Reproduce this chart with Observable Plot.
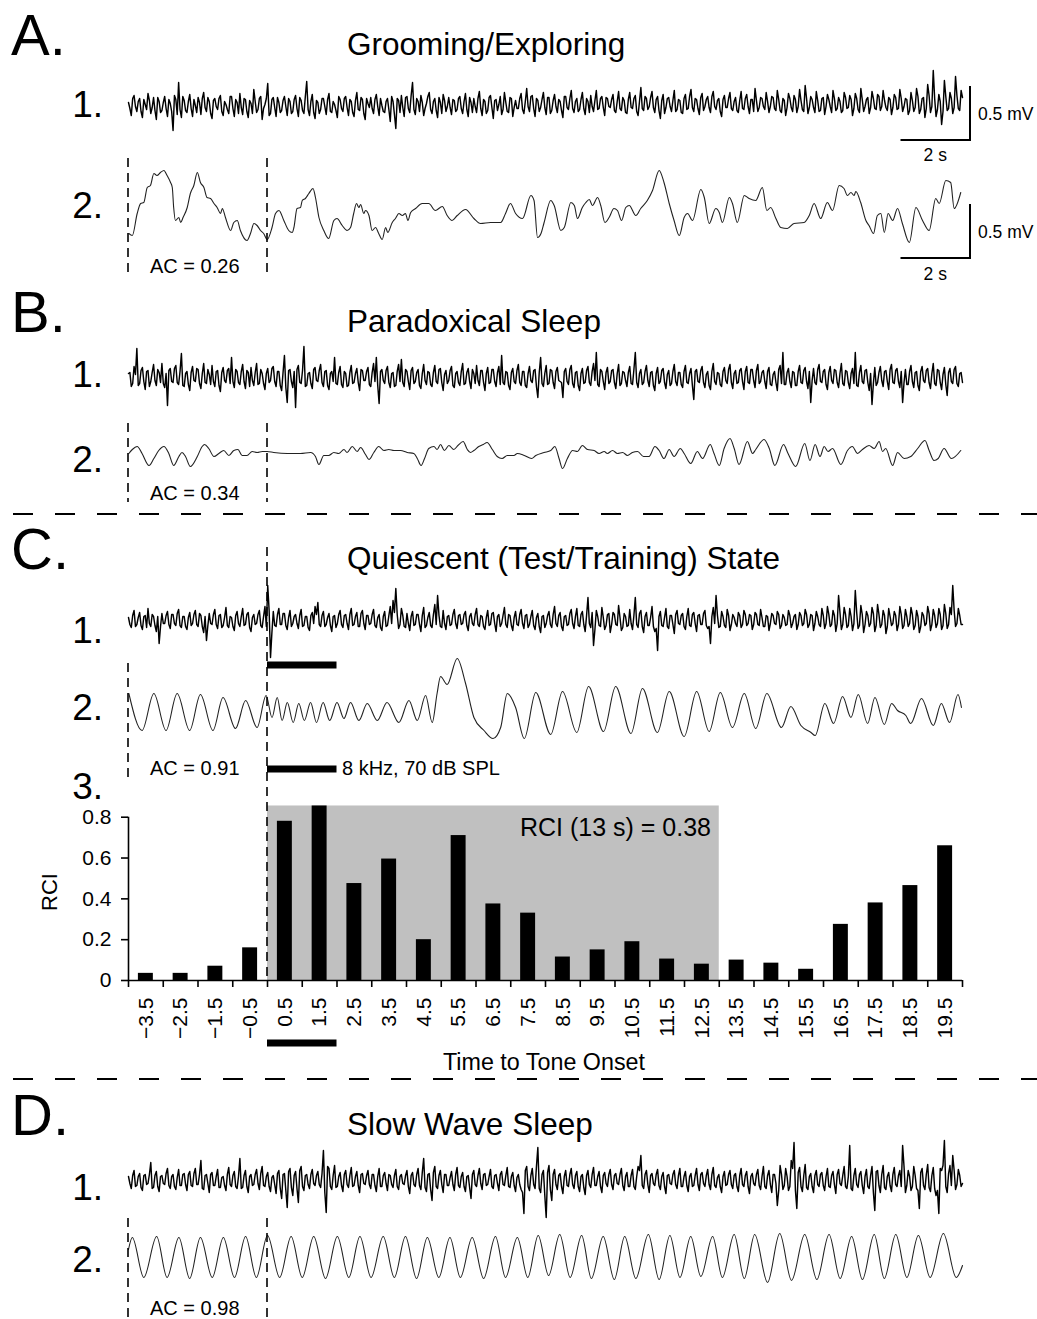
<!DOCTYPE html>
<html>
<head>
<meta charset="utf-8">
<script src="https://cdn.jsdelivr.net/npm/d3@7"></script>
<script src="https://cdn.jsdelivr.net/npm/@observablehq/plot@0.6"></script>
<style>
  html, body { margin: 0; padding: 0; background: #fff; }
  #fig { position: relative; width: 1037px; height: 1319px; background: #fff; overflow: hidden;
         font-family: "Liberation Sans", Arial, Helvetica, sans-serif; }
  #fig svg { position: absolute; }
</style>
</head>
<body>
<div id="fig"></div>
<script>
// ---------------- DATA ----------------
// RCI bar chart (panel C.3)
const rciTimes = [-3.5,-2.5,-1.5,-0.5,0.5,1.5,2.5,3.5,4.5,5.5,6.5,7.5,8.5,9.5,10.5,11.5,12.5,13.5,14.5,15.5,16.5,17.5,18.5,19.5];
const rciValues = [0.035,0.035,0.07,0.16,0.78,0.855,0.475,0.595,0.2,0.71,0.375,0.33,0.115,0.15,0.19,0.105,0.08,0.1,0.085,0.055,0.275,0.38,0.465,0.66];
const rciTicks = [0, 0.2, 0.4, 0.6, 0.8];
const rciWindowEnd = 13;        // seconds covered by the grey RCI window
const toneDuration = 2;         // seconds (8 kHz, 70 dB SPL)
const timeDomain = [-4, 20];    // seconds relative to tone onset

// Raw EEG traces (row 1): coarse samples (…A) and the in-between samples (…A2),
// amplitude units (54 units = 0.5 mV)
const rawA = [2,-11,9,-7,6,-13,0,11,-9,7,-15,3,-6,8,-12,1,-26,5,22,-13,
4,-8,10,-12,-1,7,-10,12,-7,3,-14,6,-5,9,-11,0,-9,8,-12,2,
11,-10,5,-13,1,15,-8,6,-15,0,21,-9,7,-12,2,-6,8,-11,3,-7,
9,-12,4,-9,23,-11,10,-14,2,-5,6,-10,11,-8,0,-13,5,-7,8,-11,
3,-12,12,-6,5,-15,1,7,-9,10,-11,-1,-8,6,-17,3,-24,4,9,-12,
8,-8,22,-10,3,9,-11,1,12,-9,6,-13,2,10,-7,7,-10,4,-5,8,
-9,11,-12,2,6,-8,13,-11,3,-6,9,-14,5,0,-10,12,-7,7,-12,4,
-4,11,-9,16,-7,9,-12,4,-3,12,-10,7,-6,10,-8,3,-13,8,-5,14,
-8,6,-5,12,-10,3,9,-7,14,-4,8,-11,6,-3,10,-8,13,-6,4,-9,
12,-4,9,-11,17,-6,6,-2,13,-8,8,-14,10,-3,7,-7,14,-5,4,-9,
10,-4,15,-7,5,-10,11,-2,8,-8,13,-5,6,-12,9,-3,12,-6,7,-8,
13,-5,10,-9,5,16,-7,7,-2,12,-8,8,-4,14,-6,6,-11,11,-3,9,
-8,15,-5,19,-9,8,-3,13,-7,6,-10,10,-2,14,-6,7,-8,12,-4,9,
-11,11,-5,16,-7,5,-9,13,-4,10,-6,14,-3,7,-10,10,-5,15,-7,6,
-10,12,-7,16,-9,6,-13,20,-8,34,-12,10,-20,24,-6,12,-9,28,-4,14];
const rawA2 = [-4,6,-2,3,-7,5,-5,4,-3,-6,7,-8,2,-4,5,-7,9,-10,-5,8,
-6,3,-4,5,-8,2,6,-3,7,-9,4,-2,6,-7,3,-5,8,-4,5,-9,
-3,6,-7,4,-9,3,-5,8,-4,6,-11,5,-3,7,-8,4,-2,6,-9,5,
-4,7,-6,8,-5,3,-8,4,-9,6,-2,5,-7,3,-6,8,-4,6,-3,5,
-8,4,-5,7,-9,6,-3,-4,5,-2,6,-7,3,-5,8,-10,6,-8,-3,7,
-4,9,-5,6,-7,2,-4,8,-5,3,-6,7,-9,4,-2,-3,5,-7,6,-4,
3,-5,7,-8,-2,6,-4,5,-9,7,-3,4,-6,8,-5,2,-8,6,-3,-4,
6,-5,3,-2,8,-4,6,-7,5,-3,7,-9,4,-2,5,-6,8,-3,6,-4,
3,-7,5,-4,6,-8,-2,4,-5,6,-3,7,-2,5,-6,3,-4,7,-8,5,
-3,6,-7,3,-4,8,-5,7,-3,5,-6,4,-9,6,-2,4,-7,5,-8,6,
-5,8,-3,6,-4,7,-6,5,-3,8,-2,4,-7,5,-3,6,-4,3,-6,4,
-4,6,-2,5,-7,4,-3,6,-5,3,-2,7,-6,5,-8,4,-3,6,-7,5,
-2,4,-7,6,-3,5,-8,4,-6,7,-2,5,-8,6,-4,3,-6,7,-3,5,
-4,6,-8,5,-2,7,-3,6,-5,8,-2,4,-6,5,-3,7,-4,6,-2,5,
-6,4,-3,8,-5,7,-4,9,-2,6,-5,3,-7,8,-4,6,-3,9,-6,7];

const rawB = [4,-9,11,29,-6,10,-12,7,-4,13,-8,5,14,-10,-28,9,-5,12,-7,24,
-9,6,-13,11,-4,8,-11,14,-6,3,12,-9,7,-14,10,-5,9,20,-10,6,
-7,13,-11,5,10,-8,14,-6,4,-12,9,-3,11,-9,6,-13,22,-25,8,-10,
-30,12,-6,31,-8,5,-11,10,-4,13,-9,7,-12,6,20,-7,11,-10,4,-8,
12,-5,9,-13,7,-3,10,-9,14,20,-26,8,-6,11,-10,5,-8,13,18,-9,
6,-12,10,-4,8,-11,13,-7,5,-9,12,-6,9,-13,7,-3,11,-10,6,-8,
14,-6,9,-11,4,12,-8,7,-13,10,-5,8,-9,11,22,-7,5,-12,9,-6,
13,-8,6,-10,11,-5,8,-20,20,-9,12,-6,7,-11,10,-4,-20,9,-7,12,
-10,6,-13,9,-5,11,-8,14,25,-9,6,-12,10,-4,8,-11,13,-6,5,-9,
11,-7,25,-10,8,-5,12,-9,6,-13,10,-4,9,-11,7,-6,13,-8,5,-10,
12,-6,9,-22,8,-5,11,-10,6,-12,14,-7,4,-9,10,-6,13,-11,7,-5,
9,-12,11,-6,8,-10,13,-4,7,-11,10,-8,6,-13,12,25,-7,9,-10,5,
-8,12,-6,10,-11,-25,9,-7,13,-5,8,-12,11,-6,7,-10,14,-8,6,-11,
9,25,-9,12,-6,8,-13,-27,10,-5,11,-9,7,-12,13,-6,9,-10,-25,8,
-7,12,-10,6,-13,11,-5,9,-11,14,-8,7,-12,10,-18,9,-6,11,-9,5];
const rawB2 = [5,-6,3,-8,7,-4,6,-9,5,-3,8,-5,-6,4,7,-4,9,-5,6,-8,
4,-7,5,-3,9,-6,4,-5,8,-7,-4,6,-8,5,-3,7,-6,-4,8,-5,
6,-4,7,-9,-3,5,-7,8,-6,4,-5,9,-4,6,-8,5,-10,7,-4,6,
8,-5,7,-9,4,-6,8,-3,7,-5,6,-8,4,-4,-6,5,-7,6,-9,5,
-6,4,-5,8,-3,6,-7,5,-4,-8,6,-3,7,-5,4,-9,6,-4,-5,8,
-4,7,-6,5,-8,4,-3,6,-7,5,-4,8,-5,3,-6,7,-8,4,-5,6,
-7,5,-4,8,-6,-3,7,-5,4,-6,8,-4,5,-7,-5,6,-8,5,-4,7,
-5,6,-8,4,-3,7,-9,5,-6,4,-7,8,-5,6,-3,-5,6,-4,8,-6,
5,-8,4,-6,7,-5,6,-3,-7,8,-4,5,-6,7,-5,4,-8,6,-3,5,
-6,8,-5,4,-7,6,-3,5,-8,4,-6,7,-5,3,-8,6,-4,5,-7,6,
-5,4,-8,6,-4,7,-5,3,-8,6,-4,5,-7,6,-3,8,-5,4,-6,7,
-4,6,-5,8,-3,7,-6,5,-4,6,-7,3,-5,8,-6,-7,5,-4,6,-8,
6,-5,7,-4,6,-3,-5,8,-4,6,-7,5,-3,8,-5,4,-6,7,-5,4,
-6,-8,5,-4,7,-5,4,-6,-8,5,-3,6,-4,8,-5,7,-4,6,-5,-7,
6,-4,5,-8,6,-3,7,-5,4,-6,8,-5,3,-7,5,-4,8,-6,4,-5];

const rawC = [3,-7,10,-4,8,-9,5,12,-6,4,-11,-23,7,-3,9,-8,6,-5,11,-7,
4,-9,8,-3,10,-6,5,-12,-20,7,-4,11,-8,6,-5,13,-7,3,-10,9,
-6,12,-4,8,-11,6,-3,10,-7,14,35,-37,9,-6,12,-4,7,-9,10,-3,
6,-8,11,-5,4,-10,8,14,18,-6,9,-4,7,-11,5,-3,10,-7,6,-9,
12,-4,8,-6,10,-9,5,-3,11,-7,6,-10,9,-5,14,20,32,-8,12,-6,
7,-10,9,-4,6,-11,13,-5,8,-7,16,25,-6,10,-9,5,-4,11,-8,6,
-3,9,-10,7,-5,12,-6,4,-9,10,-4,8,-11,6,-3,13,-7,5,-10,9,
-5,11,-8,6,-4,10,-9,7,-12,5,-3,9,-7,14,-6,8,-10,5,-4,11,
-8,12,-6,9,-11,23,-7,-25,10,-5,13,-9,6,-12,8,-4,15,-10,7,-6,
11,-9,23,-7,10,-12,8,-5,14,-11,-30,9,-6,12,-8,5,-13,10,-4,7,
-9,12,-6,8,-11,6,-4,10,-8,-23,13,25,-7,9,-5,11,-10,6,-3,8,
-7,10,-5,6,-9,8,-4,11,-6,5,-10,7,-3,9,-8,6,-5,10,-7,4,
-9,8,-5,11,-7,6,-10,9,-4,12,-8,14,-6,10,-11,25,-9,13,-7,12,
-10,30,-8,15,-12,9,-6,13,-11,16,-7,10,-13,12,-5,9,-10,14,-8,11,
-6,13,-9,10,-12,8,-5,14,-10,11,-7,12,-9,16,-8,13,35,-6,12,-4];
const rawC2 = [-4,5,-6,3,-5,4,-7,-3,6,-5,4,-6,-3,5,-4,6,-3,7,-5,4,
-6,3,-5,6,-4,7,-6,4,-5,-3,6,-4,5,-7,3,-5,4,-6,5,-3,
4,-5,6,-7,3,-4,6,-5,4,-6,10,-12,-5,6,-4,7,-5,3,-6,4,
-3,5,-6,4,-7,5,-3,6,-4,5,-6,3,-5,4,-7,6,-4,5,-3,6,
-5,4,-6,7,-3,5,-4,6,-5,3,-7,4,-6,5,-3,8,6,-4,5,-7,
-3,4,-5,6,-4,5,-7,3,-5,6,-4,5,-7,-3,4,-5,6,-3,5,-4,
6,-5,4,-3,6,-4,5,-6,3,-5,7,-3,4,-6,5,-4,6,-5,3,-4,
6,-3,5,-7,4,-5,3,-6,4,-7,5,-4,6,-3,5,-6,4,-5,7,-3,
4,-5,6,-4,5,-3,8,-9,4,-6,3,-5,7,-4,6,-5,3,-7,4,-5,
-3,5,-4,7,-6,4,-5,3,-6,-8,4,-5,3,-6,5,-4,6,-3,5,-6,
4,-5,6,-3,5,-4,7,-5,-6,4,-3,5,-6,4,-7,5,-4,3,-6,5,
-4,6,-3,5,-4,6,-5,3,-6,4,-3,5,-4,6,-5,3,-4,5,-3,6,
-4,5,-3,6,-4,5,-3,4,-6,5,-3,6,-4,5,-3,8,-4,6,-5,4,
-3,8,-5,6,-4,5,-3,7,-5,6,-4,5,-6,4,-3,5,-4,6,-5,4,
-3,6,-5,4,-6,5,-3,7,-4,5,-3,6,-5,7,-4,6,10,-3,5,-4];

const rawD = [4,-8,10,-5,7,-10,6,-3,18,-7,9,-11,5,-4,12,-8,6,-9,11,-5,
7,-10,9,-6,12,-4,20,-9,6,-12,8,-5,11,-7,4,-10,13,-6,9,-8,
22,-7,10,-12,6,-4,11,-9,14,-6,8,-11,5,-13,10,-18,7,-27,12,-15,
9,-22,14,-10,6,-8,11,-5,9,-7,30,-32,12,-9,15,-6,8,-11,10,-7,
13,-5,9,-12,7,-4,10,-8,6,-11,12,-6,8,-10,5,-7,11,-9,6,-4,
10,-13,8,-6,12,-9,22,-11,7,-20,14,-8,10,-12,6,-5,9,-10,13,-7,
8,-11,5,-18,10,-6,12,-9,7,-4,11,-8,6,-10,9,-5,13,-7,8,-11,
6,-9,-33,14,-10,12,-8,33,-12,10,-37,15,-20,11,-9,7,-13,10,-6,12,
-8,9,-11,6,-14,10,-7,13,-5,9,-12,8,-6,11,-9,7,-4,12,-10,8,
-6,11,-9,14,25,-8,10,-12,7,-5,11,-9,8,-13,6,-4,10,-8,12,-6,
9,-11,7,-5,12,-10,8,-6,11,-9,13,-7,6,-12,9,-4,10,-8,7,-11,
12,-6,9,-13,7,-5,11,-9,14,-8,10,-12,6,-25,15,-9,12,-10,20,38,
-28,13,-11,16,-9,7,-12,10,-6,8,-10,12,-7,9,-13,11,-5,14,-8,35,
-10,12,-7,9,-13,11,-8,14,-30,10,-12,15,-9,8,-11,13,-6,10,35,-12,
10,-10,14,-8,-28,12,-9,16,-11,13,-15,-33,10,40,-12,15,25,-9,11,-6];
const rawD2 = [-3,5,-6,4,-7,5,-4,6,-8,5,-6,4,-3,7,-5,4,-6,3,-5,6,
-4,6,-5,7,-4,6,-8,5,-3,6,-5,4,-7,3,-5,6,-4,5,-6,4,
-8,5,-6,4,-5,6,-3,7,-5,4,-6,3,-4,7,-8,6,-10,9,-7,5,
-8,10,-6,5,-4,6,-3,5,-4,7,-12,14,-6,5,-7,4,-5,6,-4,5,
-6,4,-5,6,-3,5,-4,6,-5,4,-6,5,-3,6,-4,5,-6,4,-3,5,
-6,5,-4,6,-5,8,-7,6,-9,8,-6,5,-4,6,-5,3,-4,6,-5,4,
-6,4,-7,6,-4,5,-3,6,-5,4,-6,5,-3,6,-4,5,-6,4,-5,3,
-4,-12,10,-6,5,-4,14,-8,6,-15,8,-9,6,-4,5,-6,4,-5,6,-4,
5,-6,4,-7,5,-4,6,-5,4,-6,5,-3,6,-4,5,-3,6,-5,4,-6,
5,-6,4,10,-5,6,-4,5,-3,6,-5,4,-6,5,-3,6,-4,5,-6,4,
-5,4,-6,5,-4,6,-3,5,-4,6,-5,3,-6,4,-5,6,-4,5,-6,5,
-4,5,-6,4,-3,6,-5,4,-6,5,-4,6,-3,-10,6,-5,4,-6,12,-10,
8,-6,5,-7,4,-6,5,-4,6,-5,4,-6,5,-4,6,-3,5,-6,4,-8,
5,-4,6,-5,4,-6,5,-12,9,-5,6,-7,4,-5,6,-4,5,-6,14,-5,
4,-6,5,-10,8,-5,6,-7,5,-8,-10,12,15,-6,7,-5,10,-4,5,-3];

// Filtered traces (row 2): [time (s), amplitude units] read at turning points
const filtA = [[-3.99,-23],[-3.89,-25],[-3.75,-3],[-3.65,7],[-3.56,8],[-3.46,23],[-3.37,25],[-3.27,37],[-3.18,35],[-3.08,38],[-2.98,40],[-2.89,35],[-2.79,28],[-2.74,23],[-2.70,3],[-2.65,-10],[-2.55,-7],[-2.50,-12],[-2.43,-7],[-2.31,3],[-2.22,17],[-2.12,25],[-2.02,38],[-1.93,28],[-1.83,23],[-1.74,13],[-1.64,12],[-1.54,7],[-1.45,3],[-1.35,-3],[-1.30,2],[-1.21,-7],[-1.06,-20],[-0.97,-12],[-0.87,-10],[-0.78,-20],[-0.59,-30],[-0.49,-23],[-0.39,-13],[-0.30,-15],[-0.20,-20],[-0.11,-23],[-0.01,-29],[0.13,-17],[0.23,-3],[0.33,0],[0.47,-10],[0.61,-20],[0.71,-22],[0.76,-17],[0.85,2],[0.95,3],[1.00,10],[1.09,12],[1.19,17],[1.31,22],[1.38,13],[1.48,-7],[1.62,-20],[1.76,-28],[1.91,-10],[2.00,-8],[2.15,-15],[2.29,-20],[2.39,-17],[2.48,-3],[2.56,7],[2.63,3],[2.68,6],[2.77,-3],[2.82,0],[2.92,-5],[3.01,-20],[3.11,-17],[3.20,-23],[3.30,-29],[3.40,-17],[3.46,-22],[3.59,-12],[3.68,-8],[3.78,-3],[3.88,-5],[3.97,-3],[4.04,-10],[4.12,-2],[4.26,2],[4.45,7],[4.64,7],[4.83,0],[5.03,4],[5.17,-5],[5.31,-10],[5.46,-5],[5.70,1],[5.94,-8],[6.13,-13],[6.42,-12],[6.71,-12],[6.85,-3],[6.99,7],[7.14,-3],[7.34,-8],[7.58,15],[7.67,10],[7.77,-27],[7.87,-23],[7.96,-12],[8.15,10],[8.25,5],[8.44,-20],[8.54,-17],[8.73,8],[8.83,5],[8.92,-8],[9.06,3],[9.16,8],[9.26,11],[9.35,5],[9.50,13],[9.59,5],[9.71,-12],[9.83,-7],[9.97,2],[10.07,0],[10.19,-10],[10.31,3],[10.41,5],[10.60,-5],[10.74,2],[10.93,10],[11.08,20],[11.27,40],[11.41,28],[11.56,7],[11.70,-10],[11.85,-25],[11.99,-7],[12.09,-3],[12.23,-10],[12.47,21],[12.57,13],[12.71,-13],[12.90,2],[13.00,-2],[13.09,-12],[13.29,13],[13.38,7],[13.52,-12],[13.72,15],[13.86,12],[14.05,10],[14.24,23],[14.37,0],[14.48,3],[14.63,-8],[14.77,-17],[14.96,-18],[15.15,-13],[15.44,-12],[15.59,-5],[15.73,7],[15.92,-8],[16.11,8],[16.26,0],[16.45,25],[16.59,22],[16.69,15],[16.79,18],[16.88,15],[16.93,19],[17.07,8],[17.22,-10],[17.31,-15],[17.44,-23],[17.55,-5],[17.65,-3],[17.75,-22],[17.86,-3],[17.99,-10],[18.13,2],[18.27,-13],[18.47,-32],[18.66,3],[18.85,-10],[19.04,-20],[19.23,12],[19.33,7],[19.52,30],[19.66,28],[19.76,2],[19.95,18]];

const filtB = [[-3.99,0],[-3.89,4],[-3.75,7],[-3.61,0],[-3.41,-12],[-3.27,-5],[-3.13,3],[-2.98,7],[-2.84,0],[-2.70,-12],[-2.55,-3],[-2.46,1],[-2.36,-3],[-2.22,-13],[-2.02,-3],[-1.88,7],[-1.81,9],[-1.69,5],[-1.54,-3],[-1.40,0],[-1.26,3],[-1.11,-2],[-0.97,3],[-0.85,4],[-0.73,-2],[-0.59,-2],[-0.44,2],[-0.30,1],[-0.15,2],[-0.01,2],[0.18,1],[0.57,0],[0.95,0],[1.24,1],[1.38,-3],[1.48,-11],[1.62,-2],[1.76,-2],[1.91,1],[2.05,0],[2.20,4],[2.29,1],[2.44,7],[2.58,2],[2.68,6],[2.82,-1],[2.92,-6],[3.06,1],[3.20,7],[3.35,3],[3.49,4],[3.64,3],[3.83,3],[4.02,1],[4.21,0],[4.31,-5],[4.42,-12],[4.52,-5],[4.64,5],[4.79,7],[4.88,4],[4.98,9],[5.09,3],[5.22,8],[5.36,4],[5.48,8],[5.63,12],[5.75,4],[5.84,1],[5.94,3],[6.08,7],[6.21,9],[6.32,11],[6.47,4],[6.61,-3],[6.75,-5],[6.90,-2],[7.09,-2],[7.19,0],[7.39,-2],[7.60,-5],[7.72,-2],[7.96,1],[8.15,3],[8.27,7],[8.39,-5],[8.49,-15],[8.63,-5],[8.78,3],[8.92,2],[9.06,8],[9.21,4],[9.40,3],[9.54,0],[9.69,2],[9.78,0],[9.93,3],[10.07,0],[10.22,1],[10.36,-2],[10.50,1],[10.65,2],[10.82,-3],[10.98,-3],[11.15,7],[11.27,3],[11.41,-5],[11.56,4],[11.70,-3],[11.88,5],[11.99,0],[12.18,-10],[12.37,2],[12.52,-5],[12.74,9],[12.85,0],[13.00,-12],[13.14,5],[13.31,15],[13.43,5],[13.57,-11],[13.81,12],[13.96,0],[14.05,4],[14.29,14],[14.44,5],[14.60,-12],[14.85,9],[14.98,0],[15.20,-13],[15.46,10],[15.61,-7],[15.76,9],[15.90,-3],[16.02,7],[16.13,2],[16.26,5],[16.50,-11],[16.69,3],[16.83,7],[16.98,0],[17.12,4],[17.31,8],[17.46,5],[17.60,12],[17.70,2],[17.79,5],[17.99,-12],[18.13,1],[18.32,-5],[18.51,-3],[18.71,5],[18.92,13],[19.04,3],[19.18,-7],[19.30,-5],[19.47,5],[19.68,-5],[19.95,3]];

const filtC = [[-3.99,17],[-3.61,-20],[-3.27,17],[-2.92,-20],[-2.60,17],[-2.24,-20],[-1.93,16],[-1.57,-20],[-1.28,13],[-0.92,-18],[-0.63,10],[-0.30,-17],[-0.04,15],[0.13,-7],[0.28,13],[0.42,-10],[0.57,8],[0.74,-12],[0.90,7],[1.06,-10],[1.24,8],[1.41,-12],[1.60,8],[1.79,-10],[2.00,8],[2.20,-8],[2.39,8],[2.63,-10],[2.87,7],[3.16,-10],[3.44,8],[3.78,-12],[4.07,10],[4.31,-10],[4.55,15],[4.74,-12],[4.88,17],[4.98,34],[5.17,26],[5.46,52],[5.70,27],[5.94,-7],[6.23,-20],[6.49,-28],[6.71,-17],[6.90,17],[7.14,3],[7.39,-28],[7.72,18],[8.15,-24],[8.49,19],[8.90,-22],[9.24,24],[9.67,-21],[10.02,24],[10.46,-23],[10.79,22],[11.22,-22],[11.56,19],[11.99,-26],[12.35,19],[12.71,-21],[13.03,18],[13.38,-17],[13.72,17],[14.05,-18],[14.37,17],[14.79,-17],[15.06,4],[15.35,-15],[15.64,-22],[15.76,-25],[16.04,7],[16.29,-13],[16.55,14],[16.79,-7],[17.00,16],[17.27,-13],[17.48,13],[17.75,-14],[17.96,7],[18.13,0],[18.37,-5],[18.51,-13],[18.82,12],[19.16,-15],[19.39,7],[19.63,-12],[19.87,16],[19.97,3]];

const filtD = [[-4.0,8],[-3.89,20],[-3.56,-20],[-3.19,21],[-2.89,-20],[-2.55,20],[-2.24,-21],[-1.93,20],[-1.59,-20],[-1.27,20],[-0.95,-20],[-0.63,21],[-0.32,-20],[0.0,22],[0.35,-20],[0.68,21],[1.00,-20],[1.33,21],[1.67,-21],[2.01,21],[2.34,-20],[2.66,21],[2.98,-20],[3.33,21],[3.65,-20],[3.97,21],[4.29,-21],[4.60,20],[4.93,-20],[5.25,20],[5.55,-20],[5.89,20],[6.22,-21],[6.56,21],[6.85,-20],[7.19,20],[7.49,-20],[7.79,22],[8.09,-18],[8.41,23],[8.71,-20],[9.04,22],[9.32,-21],[9.66,21],[9.98,-22],[10.28,21],[10.60,-21],[10.96,23],[11.27,-22],[11.58,22],[11.87,-20],[12.18,21],[12.47,-19],[12.81,21],[13.09,-20],[13.43,23],[13.72,-21],[14.02,23],[14.39,-25],[14.74,24],[15.08,-23],[15.46,23],[15.81,-22],[16.16,23],[16.48,-21],[16.81,21],[17.12,-22],[17.46,23],[17.75,-21],[18.08,23],[18.40,-20],[18.73,22],[19.07,-20],[19.45,24],[19.82,-20],[20.0,-8]];

const panels = ["A.", "B.", "C.", "D."];
const titles = ["Grooming/Exploring", "Paradoxical Sleep", "Quiescent (Test/Training) State", "Slow Wave Sleep"];
const acLabels = ["AC = 0.26", "AC = 0.34", "AC = 0.91", "AC = 0.98"];
const scaleLabels = {amp: "0.5 mV", ampUnits: 54, time: "2 s", timeSec: 2};

// ---------------- LAYOUT ----------------
const W = 1037, H = 1319;
const X0 = 128, X1 = 962;           // pixel extent of the shared time axis
const HALF = 70;
const FONT = '"Liberation Sans", Arial, Helvetica, sans-serif';
const fig = document.getElementById("fig");
const tx = d3.scaleLinear(timeDomain, [X0, X1]);

function place(el, left, top) {
  el.style.position = "absolute";
  el.style.left = left + "px";
  el.style.top = top + "px";
  fig.appendChild(el);
}

function trace(points, centerY, opts) {
  const p = Plot.plot({
    width: X1 - X0, height: 2 * HALF,
    marginLeft: 0, marginRight: 0, marginTop: 0, marginBottom: 0,
    x: {domain: timeDomain, axis: null},
    y: {domain: [-HALF, HALF], axis: null},
    style: {background: "transparent", overflow: "visible"},
    marks: [
      Plot.line(points, {x: "t", y: "v", curve: opts.curve, stroke: opts.stroke,
        strokeWidth: opts.w, strokeLinejoin: "round"})
    ]
  });
  place(p, X0, centerY - HALF);
}
// coarse + in-between samples, in recording order
const merge2 = (a, b) => d3.merge(a.map((v, i) => [v, b[i]]));
const rawPts = vals => vals.map((v, i) => ({t: timeDomain[0] + i * (timeDomain[1] - timeDomain[0]) / (vals.length - 1), v}));
const pairPts = arr => arr.map(([t, v]) => ({t, v}));

const rawStyle = {curve: "linear", stroke: "#000", w: 1.45};
const filtStyle = {curve: "monotone-x", stroke: "#222", w: 1.1};

trace(rawPts(merge2(rawA, rawA2)), 104, rawStyle);
trace(pairPts(filtA), 210, filtStyle);
trace(rawPts(merge2(rawB, rawB2)), 377, rawStyle);
trace(pairPts(filtB), 453, filtStyle);
trace(rawPts(merge2(rawC, rawC2)), 620, rawStyle);
trace(pairPts(filtC), 710, filtStyle);
trace(rawPts(merge2(rawD, rawD2)), 1180, rawStyle);
trace(pairPts(filtD), 1257, filtStyle);

// ---------------- BAR CHART (C.3) ----------------
const rciData = rciTimes.map((t, i) => ({t, rci: rciValues[i]}));
const rciMax = d3.max(rciValues);
const minus = d => (d < 0 ? "\u2212" : "") + Math.abs(d).toFixed(1);
const bar = Plot.plot({
  width: W, height: 300,
  marginLeft: X0, marginRight: W - X1, marginTop: 36.7, marginBottom: 100,
  x: {domain: timeDomain, axis: null},
  y: {domain: [0, 0.8], axis: null},
  style: {background: "transparent", overflow: "visible", fontFamily: FONT},
  marks: [
    Plot.rect([{x1: 0, x2: rciWindowEnd, y1: 0, y2: rciMax}], {x1: "x1", x2: "x2", y1: "y1", y2: "y2", fill: "#c0c0c0"}),
    Plot.rectY(rciData, {x1: d => d.t - 0.5, x2: d => d.t + 0.5, y: "rci", fill: "#000", insetLeft: 9.9, insetRight: 9.9}),
    Plot.ruleY([0], {x1: timeDomain[0], x2: timeDomain[1], strokeWidth: 1.6}),
    Plot.ruleX([timeDomain[0]], {y1: 0, y2: 0.8, strokeWidth: 1.6}),
    Plot.axisY({ticks: rciTicks, tickSize: 7, tickPadding: 10, strokeWidth: 1.6, fontSize: 21,
      tickFormat: d => d === 0 ? "0" : d.toFixed(1), label: null}),
    Plot.axisX({ticks: d3.range(timeDomain[0], timeDomain[1] + 1), tickSize: 7, strokeWidth: 1.6,
      tickFormat: () => "", label: null}),
    Plot.axisX({ticks: rciTimes, tickSize: 0, tickPadding: 17, tickRotate: -90, fontSize: 21,
      tickFormat: minus, label: null})
  ]
});
place(bar, 0, 780);

// ---------------- OVERLAY (labels, separators, markers) ----------------
const svg = d3.create("svg").attr("width", W).attr("height", H)
  .style("left", "0px").style("top", "0px").style("font-family", FONT);

function txt(s, x, y, size, anchor = "start", extra) {
  const t = svg.append("text").attr("x", x).attr("y", y).attr("font-size", size)
    .attr("text-anchor", anchor).attr("fill", "#000").text(s);
  if (extra) extra(t);
  return t;
}

const panelBase = [55, 332, 569, 1135];
panels.forEach((p, i) => txt(p, 11, panelBase[i], 58));
titles.forEach((t, i) => txt(t, 347, panelBase[i], 31.5));

const rowLabels = [["1.", 117], ["2.", 218], ["1.", 387], ["2.", 472], ["1.", 643], ["2.", 720], ["3.", 799], ["1.", 1200], ["2.", 1272]];
rowLabels.forEach(([s, y]) => txt(s, 103, y, 37, "end"));

const acBase = [273, 500, 775, 1315];
acLabels.forEach((s, i) => txt(s, 150, acBase[i], 20));

// dashed vertical markers at trace start and tone onset
function vdash(t, y1, y2) {
  svg.append("line").attr("x1", tx(t)).attr("x2", tx(t)).attr("y1", y1).attr("y2", y2)
    .attr("stroke", "#000").attr("stroke-width", 1.6).attr("stroke-dasharray", "9,6");
}
vdash(-4, 158, 273); vdash(0, 158, 273);
vdash(-4, 423, 502); vdash(0, 423, 502);
vdash(-4, 663, 783); vdash(0, 547, 980);
vdash(-4, 1218, 1319); vdash(0, 1218, 1319);

// horizontal dashed separators
[514, 1079].forEach(y => svg.append("line").attr("x1", 13).attr("x2", W).attr("y1", y).attr("y2", y)
  .attr("stroke", "#000").attr("stroke-width", 1.8).attr("stroke-dasharray", "20,22"));

// tone bars
[665, 769, 1043].forEach(y => svg.append("line").attr("x1", tx(0)).attr("x2", tx(toneDuration))
  .attr("y1", y).attr("y2", y).attr("stroke", "#000").attr("stroke-width", 7));
txt("8 kHz, 70 dB SPL", 342, 775, 20);

// scale bars (panel A)
const sbRight = 970, sbW = tx(scaleLabels.timeSec) - tx(0);
[[140, 120, 161], [258, 238, 280]].forEach(([yb, yAmp, yTime]) => {
  svg.append("path").attr("d", `M${sbRight - sbW},${yb}H${sbRight}V${yb - scaleLabels.ampUnits}`)
    .attr("fill", "none").attr("stroke", "#000").attr("stroke-width", 2);
  txt(scaleLabels.amp, 978, yAmp, 17.5);
  txt(scaleLabels.time, sbRight - sbW / 2, yTime, 17.5, "middle");
});

// bar chart annotations
txt("RCI (13 s) = 0.38", 711, 836, 25, "end");
txt("RCI", 0, 0, 22, "middle", t => t.attr("transform", "translate(57,892) rotate(-90)"));
txt("Time to Tone Onset", 544, 1070, 23.3, "middle");

fig.appendChild(svg.node());
</script>
</body>
</html>
